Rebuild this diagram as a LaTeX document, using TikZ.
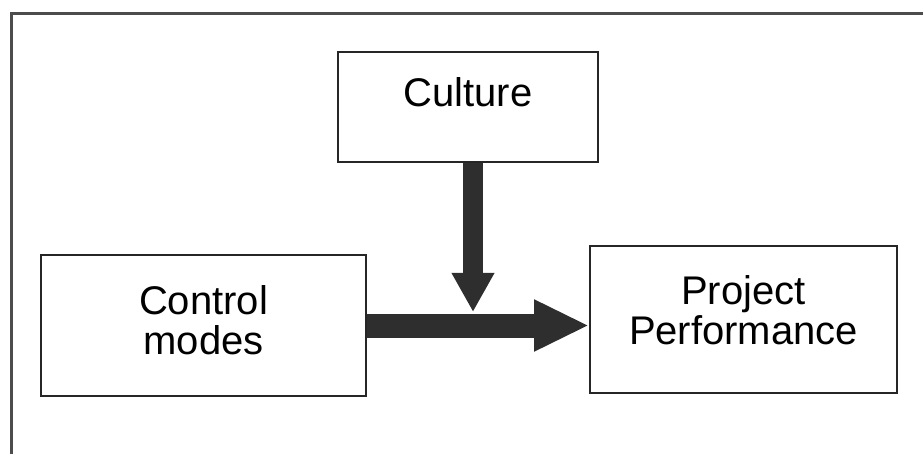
\documentclass[tikz,border=0pt]{standalone}
\usepackage{fontspec}
\setmainfont{Liberation Sans}
\usetikzlibrary{arrows.meta}
\begin{document}
\begin{tikzpicture}[x = 1pt, y = -1pt]
        \useasboundingbox (0,0) rectangle (923,454);
        \tikzset{
            box/.style = {draw = black!85, line width = 1.8pt, fill = white, inner sep = 0pt,
                font = \fontsize{40}{40}\selectfont, align = center},
            flow/.style = {draw = black!80, line width = #1, line cap = butt}
        }
        \draw[line width = 3pt, black!70] (11,454) -- (11,14) -- (923,14);
        \node[box, minimum width = 260pt, minimum height = 110pt, text height = 29pt, text depth = 30pt] (culture) at (468,107) {Culture};
        \node[box, minimum width = 325pt, minimum height = 141pt, text height = 69pt, text depth = 11pt] (control) at (203.5,325.5) {Control\\modes};
        \node[box, minimum width = 307pt, minimum height = 147pt, text height = 69pt, text depth = 20pt] (project) at (743.5,319.5) {Project\\Performance};
        \coordinate (join) at (473,312);
        \draw[flow = 24pt, black!82, -{Triangle[length = 55pt, width = 48pt]}] (control.east) -- (control.east -| project.west);
        \draw[flow = 20pt, black!82, -{Triangle[length = 39pt, width = 40pt]}] (culture.south -| join) -- (join);
    \end{tikzpicture}
\end{document}
